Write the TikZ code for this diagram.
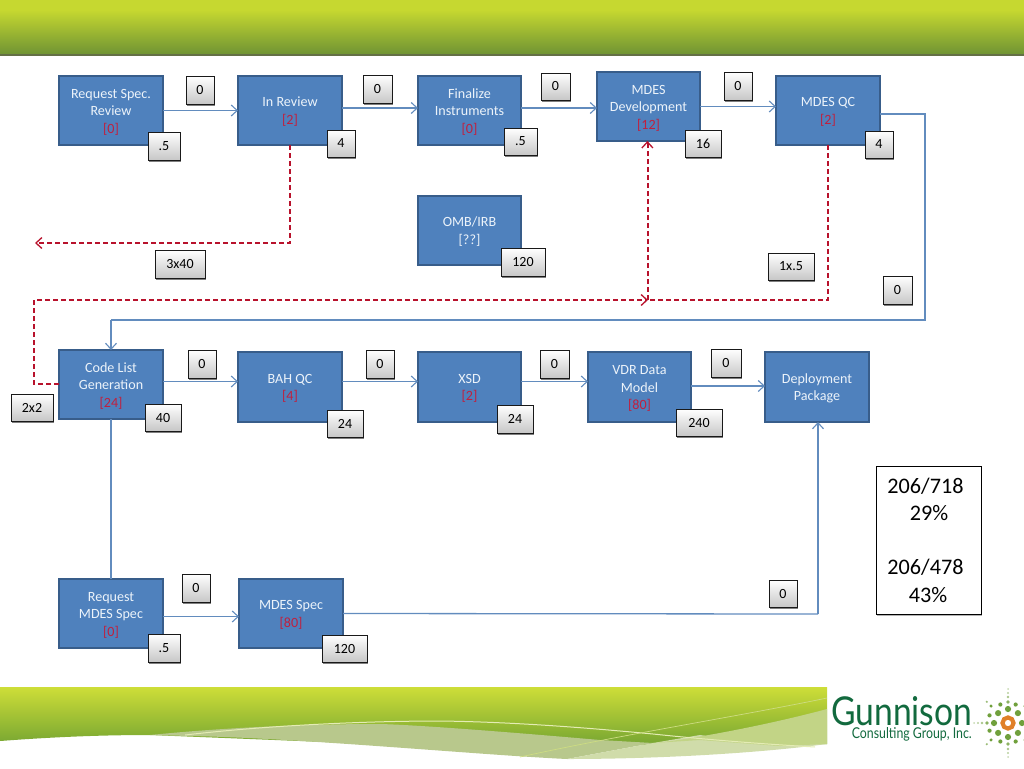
\documentclass[tikz,border=0pt]{standalone}
\usepackage{fontspec}
\usepackage{graphicx}
\setmainfont{Carlito}
\newfontfamily\logofont{Lato}
\usetikzlibrary{arrows.meta,shadows,calc}
\definecolor{procfill}{RGB}{79,129,189}
\definecolor{procline}{RGB}{56,93,138}
\definecolor{proctext}{RGB}{236,243,250}
\definecolor{flowblue}{RGB}{98,140,190}
\definecolor{flowred}{RGB}{184,18,44}
\definecolor{codered}{RGB}{192,32,62}
\definecolor{logogreen}{RGB}{18,106,62}
\definecolor{sungreen}{RGB}{112,160,60}
\definecolor{sunorange}{RGB}{224,128,40}
\definecolor{headtop}{RGB}{198,216,48}
\definecolor{headbot}{RGB}{112,148,52}
\definecolor{headline}{RGB}{100,112,70}
\definecolor{foottop}{RGB}{206,222,56}
\definecolor{footbot}{RGB}{118,165,50}
\definecolor{footpale}{RGB}{184,200,140}
\definecolor{footpaleb}{RGB}{208,220,170}
\definecolor{footpalec}{RGB}{194,212,134}
\definecolor{footwave}{RGB}{228,236,180}
\definecolor{footfaint}{RGB}{205,220,130}
\tikzset{
  procbox/.style={draw=procline,line width=2pt,fill=procfill,text=proctext,align=center,inner sep=0pt,outer sep=0pt,font=\fontsize{14.1}{17.5}\selectfont},
  tagbox/.style={draw=black!90,line width=.9pt,top color=white,bottom color=black!22,text=black,inner sep=0pt,outer sep=0pt,font=\fontsize{14}{15}\selectfont,drop shadow={shadow xshift=.8pt,shadow yshift=-2pt,opacity=.5,fill=black}},
  blueflow/.style={draw=flowblue,line width=1.3pt},
  blueto/.style={blueflow,-{Straight Barb[length=6pt,width=11pt,line width=1.1pt]}},
  redflow/.style={draw=flowred,line width=1.3pt,dash pattern=on 5pt off 3pt},
  redto/.style={redflow,-{Straight Barb[length=6pt,width=11pt,line width=1.3pt]}},
}
\newcommand{\procb}[6]{\node[procbox,minimum width={(#4)-(#2)},minimum height={(#5)-(#3)}] (#1) at ({((#2)+(#4))/2},{((#3)+(#5))/2}) {\rule{0pt}{14pt}#6\rule[-4pt]{0pt}{4pt}};}
\newcommand{\tagb}[6]{\node[tagbox,minimum width={(#4)-(#2)},minimum height={(#5)-(#3)}] (#1) at ({((#2)+(#4))/2},{((#3)+(#5))/2}) {#6};}
\newcommand{\rd}[1]{\textcolor{codered}{[#1]}}
\begin{document}
\begin{tikzpicture}[x=1pt,y=-1pt]
\useasboundingbox (0,0) rectangle (1024,768);
% header
\shade[top color=headtop,bottom color=headbot] (0,10) rectangle (1024,54);
\fill[headtop] (0,0) rectangle (1024,10);
\fill[headline] (0,54) rectangle (1024,56);
% footer band
\shade[top color=foottop,bottom color=footbot]
  (0,687) -- (827,687) -- (827,744) -- (700,745) -- (560,745) -- (400,745)
  -- (150,735) .. controls (90,735) and (40,738) .. (0,741) -- cycle;
% pale wave, left part
\fill[footpale]
  (150,735) .. controls (220,728) and (300,724) .. (380,724)
  .. controls (420,725) and (520,733) .. (600,740) -- (653,743) -- (567,759)
  .. controls (480,755) and (300,738) .. (190,736) -- cycle;
% pale wave, right lower part
\fill[footpaleb]
  (653,743) -- (700,735) -- (760,744) -- (827,744)
  .. controls (760,753) and (660,759) .. (567,759) -- cycle;
% pale wave, right upper part
\fill[footpalec]
  (653,743) .. controls (680,741) and (760,727) .. (827,709) -- (827,744) -- (780,746) -- (700,740) -- cycle;
\draw[footwave,line width=1pt]
  (185,735) .. controls (280,724) and (380,721) .. (440,721) .. controls (520,722) and (600,729) .. (653,734) .. controls (720,741) and (780,745) .. (815,747);
\draw[footfaint,line width=.7pt] (520,757) .. controls (620,735) and (740,716) .. (827,698);
% logo
\node[inner sep=0pt,text=logogreen,anchor=west] (logoname) at (831,711.5) {\resizebox{141pt}{29pt}{\logofont Gunnison}};
\node[inner sep=0pt,text=logogreen,anchor=east] (logosub) at (972,734.8) {\resizebox{120pt}{11pt}{\logofont Consulting Group, Inc.}};
\coordinate (sun) at (1008,723);
\foreach \a in {0,45,...,315}{
  \fill[sungreen] (sun) ++(\a:14) circle[radius=3.1];
}
\foreach \a in {22.5,67.5,...,337.5}{
  \fill[sungreen] (sun) ++(\a:20) circle[radius=2.1];
}
\foreach \a in {45,135,225,315}{
  \fill[sungreen] (sun) ++(\a:24) circle[radius=1.7];
  \fill[sungreen!70] (sun) ++(\a:30) circle[radius=1.2];
}
\foreach \a in {0,90,180,270}{
  \fill[sungreen!80] (sun) ++(\a:21) circle[radius=1.8];
  \fill[sungreen!60] (sun) ++(\a:26) circle[radius=1.3];
  \fill[sungreen!50] (sun) ++(\a:30) circle[radius=1.1];
  \fill[sungreen!40] (sun) ++(\a:34) circle[radius=1];
}
\draw[sunorange,line width=4.2pt] (sun) circle[radius=5.5];
% process boxes
\procb{req}{59}{76}{163}{145}{Request Spec.\\Review\\\rd{0}}
\procb{rev}{238}{76}{342}{145}{In Review\\\rd{2}}
\procb{fin}{418}{76}{521}{145}{Finalize\\Instruments\\\rd{0}}
\procb{dev}{597}{72}{700}{141}{MDES\\Development\\\rd{12}}
\procb{qc}{776}{76}{880}{145}{MDES QC\\\rd{2}}
\procb{omb}{418}{196}{521}{265}{OMB/IRB\\{[??]}}
\procb{code}{59}{350}{163}{419}{Code List\\Generation\\\rd{24}}
\procb{bah}{238}{352}{342}{422}{BAH QC\\\rd{4}}
\procb{xsd}{418}{352}{521}{422}{XSD\\\rd{2}}
\procb{vdr}{588}{352}{691}{422}{VDR Data\\Model\\\rd{80}}
\procb{dep}{765}{352}{869}{422}{Deployment\\Package}
\procb{rms}{59}{579}{163}{648}{Request\\MDES Spec\\\rd{0}}
\procb{spec}{239}{579}{343}{648}{MDES Spec\\\rd{80}}
% connectors
\coordinate (qcout) at (880,114);
\coordinate (qcright) at (925,114);
\coordinate (qclow) at (925,320);
\coordinate (codein) at (111,320);
\coordinate (revdrop) at (290,243);
\coordinate (revend) at (35,243);
\coordinate (junction) at (648,300);
\coordinate (qcdrop) at (828,300);
\coordinate (codeleft) at (34,384);
\coordinate (codeup) at (34,300);
\coordinate (specturn) at (818,614);
\draw[blueto] (req) -- (rev);
\draw[blueto] ([yshift=2.5pt]rev.east) -- ([yshift=2.5pt]fin.west);
\draw[blueto] ([yshift=2.5pt]fin.east) -- ([yshift=-1.5pt]dev.west);
\draw[blueto] (dev.east) -- (qc.west |- dev.east);
\draw[blueflow] (qcout) -- (qcright) -- (qclow) -- (codein);
\draw[blueto] (codein) -- (code.north);
\draw[blueto] ([yshift=3pt]code.east) -- ([yshift=5.5pt]bah.west);
\draw[blueto] ([yshift=5.5pt]bah.east) -- ([yshift=5.5pt]xsd.west);
\draw[blueto] ([yshift=5.5pt]xsd.east) -- ([yshift=5.5pt]vdr.west);
\draw[blueto] ([yshift=1pt]vdr.east) -- ([yshift=1pt]dep.west);
\draw[blueflow] (code.south) -- (rms.north);
\draw[blueto] ([yshift=-3pt]rms.east) -- ([yshift=-3pt]spec.west);
\draw[blueflow] (spec.east) -- (specturn);
\draw[blueto] (specturn) -- (specturn |- dep.south);
\draw[redto] (rev.south) -- (revdrop) -- (revend);
\draw[redflow] (qc.south) -- (qcdrop) -- (junction);
\draw[redto] ([xshift=-.6pt]junction) -- ([xshift=-.6pt]junction |- dev.south);
\draw[redflow] ([xshift=.6pt]junction) -- ([xshift=.6pt]junction |- dev.south);
\draw[redto] (code.west |- codeleft) -- (codeleft) -- (codeup) -- (junction);
% tags
\tagb{t1}{186}{76}{214}{104}{0}
\tagb{t2}{148}{132}{180}{160}{.5}
\tagb{t3}{363}{75}{392}{103}{0}
\tagb{t4}{327}{130}{355}{157}{4}
\tagb{t5}{541}{73}{570}{100}{0}
\tagb{t6}{504}{128}{537}{155}{.5}
\tagb{t7}{685}{130}{721}{157}{16}
\tagb{t8}{724}{72}{752}{100}{0}
\tagb{t9}{865}{131}{893}{158}{4}
\tagb{t10}{155}{250}{205}{278}{3x40}
\tagb{t11}{501}{248}{545}{276}{120}
\tagb{t12}{768}{253}{814}{280}{1x.5}
\tagb{t13}{883}{276}{912}{304}{0}
\tagb{t14}{11}{394}{53}{421}{2x2}
\tagb{t15}{145}{404}{181}{431}{40}
\tagb{t16}{188}{350}{216}{378}{0}
\tagb{t17}{327}{410}{363}{437}{24}
\tagb{t18}{366}{350}{394}{378}{0}
\tagb{t19}{497}{405}{533}{433}{24}
\tagb{t20}{540}{350}{569}{378}{0}
\tagb{t21}{676}{409}{722}{436}{240}
\tagb{t22}{711}{349}{741}{377}{0}
\tagb{t23}{182}{574}{210}{602}{0}
\tagb{t24}{148}{634}{180}{662}{.5}
\tagb{t25}{322}{635}{367}{662}{120}
\tagb{t26}{769}{580}{797}{607}{0}
% summary
\node[draw=black,line width=.8pt,fill=white,inner sep=0pt,outer sep=0pt,minimum width=105pt,minimum height=148pt,align=center,font=\fontsize{22.2}{27.3}\selectfont,drop shadow={shadow xshift=1pt,shadow yshift=-2pt,opacity=.3,fill=black}] (summary) at (928.5,540) {\hspace*{-6pt}206/718\\\hspace*{1pt}29\%\\[27.3pt]\hspace*{-6pt}206/478\\\hspace*{-1pt}43\%};
\end{tikzpicture}
\end{document}
